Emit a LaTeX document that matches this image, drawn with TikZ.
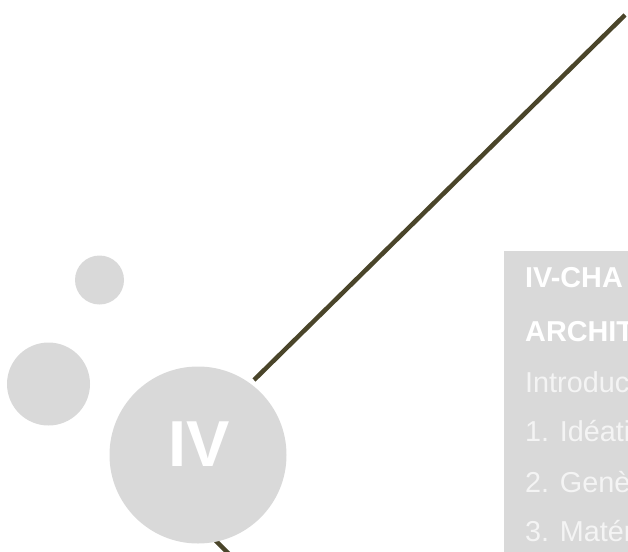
\documentclass[tikz,border=0pt]{standalone}
\usepackage{fontspec}
\setmainfont{Liberation Sans}
\definecolor{bulle}{HTML}{D9D9D9}
\definecolor{trait}{HTML}{4A452A}
\definecolor{texte}{HTML}{F4F4F4}
\tikzset{
  bulle/.style={circle, fill=bulle, inner sep=0pt},
  ligne/.style={anchor=base west, inner sep=0pt, text=texte, font=\fontsize{28.8}{32}\selectfont},
  titre/.style={ligne, text=white, font=\bfseries\fontsize{28.8}{32}\selectfont},
}
\begin{document}
\begin{tikzpicture}[x=1pt,y=-1pt]
	\useasboundingbox (0,0) rectangle (628,551);
	\coordinate (haut) at (625,15);
	\coordinate (bas) at (254,380);
	\coordinate (pied) at (200,525);
	\coordinate (sortie) at (236,561);
	\draw [trait, line width=4.5pt] (haut) -- (bas);
	\draw [trait, line width=4.5pt] (pied) -- (sortie);
	\node [bulle, minimum size=49pt] (petite) at (99.5,280) {};
	\node [bulle, minimum size=83pt] (moyenne) at (48.5,384) {};
	\node [bulle, minimum size=177pt] (grande) at (198,455) {};
	\node [anchor=base, inner sep=0pt, text=white, font=\bfseries\fontsize{65}{70}\selectfont] (chiffre) at (199,466) {IV};
	\fill [bulle] (504,251) rectangle (640,560);
	\node [titre] (chap) at (525,287) {IV-CHA};
	\node [titre] (archi) at (525,341) {ARCHIT};
	\node [ligne] (intro) at (525,392) {Introduc};
	\node [ligne] (un) at (525,441) {1. Idéati};
	\node [ligne] (deux) at (525,492) {2. Genè};
	\node [ligne] (trois) at (525,541) {3. Matér};
\end{tikzpicture}
\end{document}
